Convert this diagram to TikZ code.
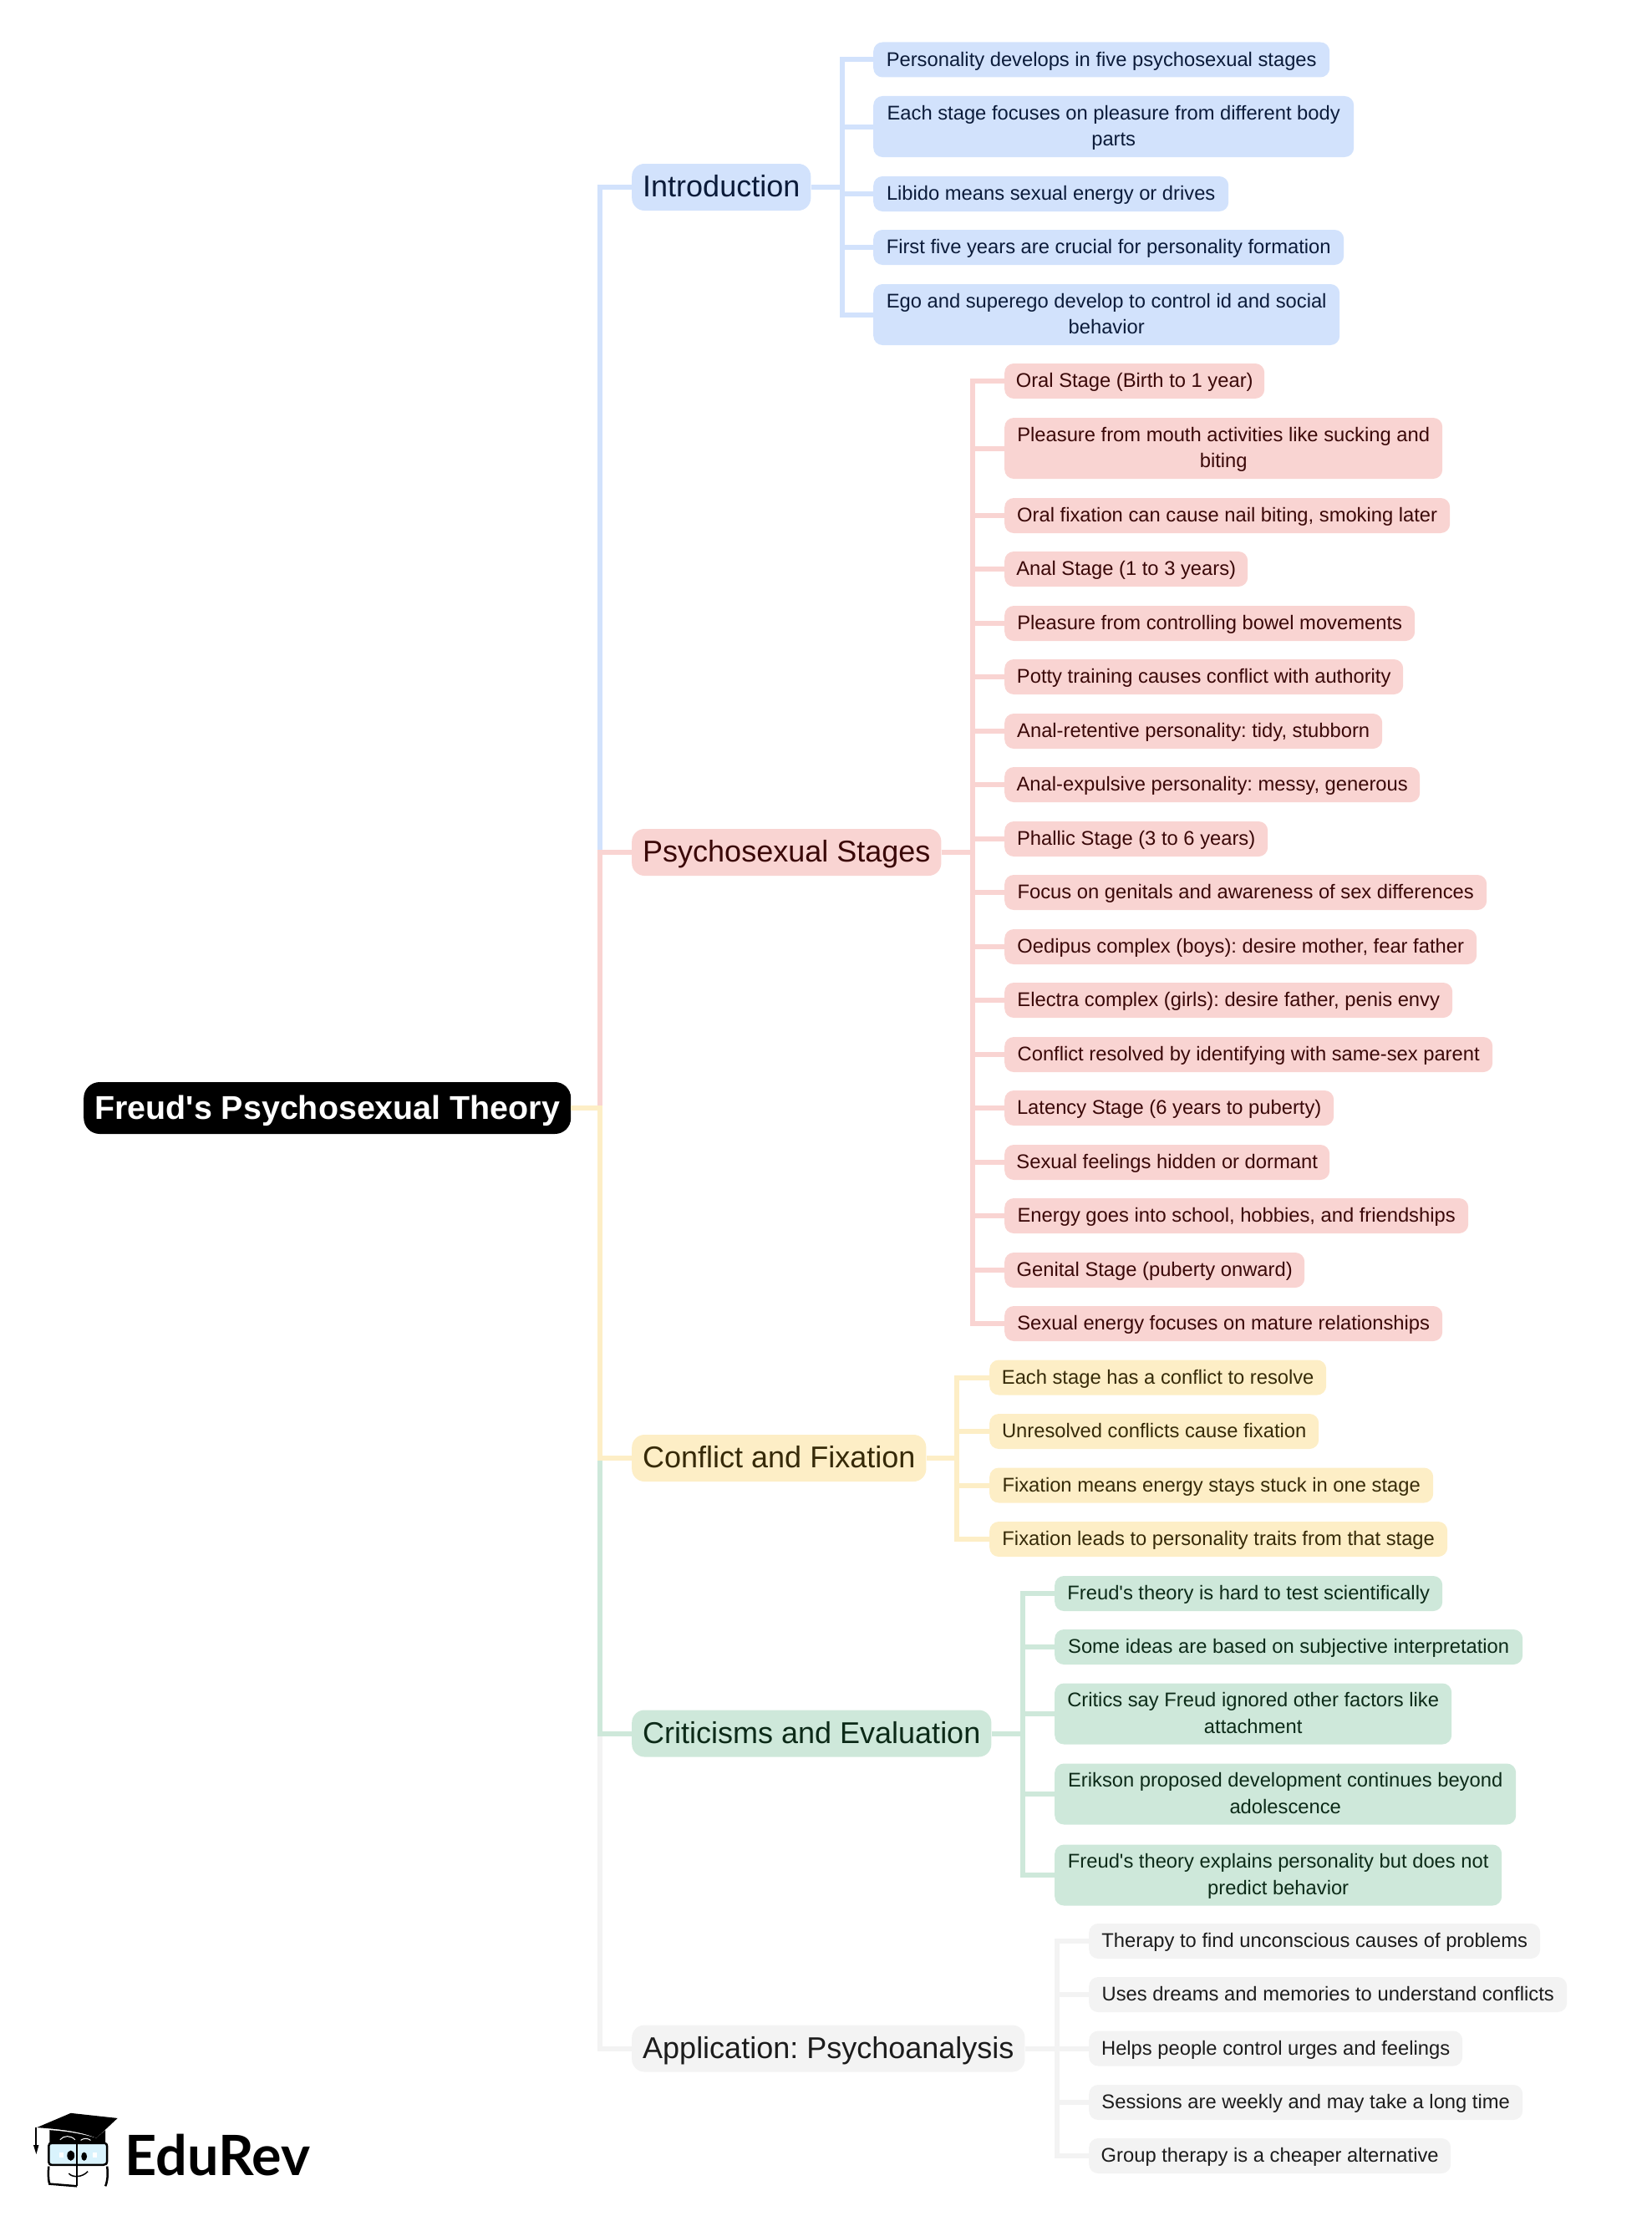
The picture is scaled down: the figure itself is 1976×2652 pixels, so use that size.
\documentclass[tikz,border=0pt]{standalone}
\usepackage{fontspec}
\setmainfont{Liberation Sans}
\newfontfamily\logofont{Lato}
\definecolor{bluefill}{HTML}{D2E2FC}
\definecolor{pinkfill}{HTML}{F9D4D2}
\definecolor{yellowfill}{HTML}{FDEEC6}
\definecolor{greenfill}{HTML}{CEE8DA}
\definecolor{grayfill}{HTML}{F3F3F3}
\definecolor{bluetext}{HTML}{0B1B3A}
\definecolor{pinktext}{HTML}{3A0808}
\definecolor{yellowtext}{HTML}{362A08}
\definecolor{greentext}{HTML}{0C2A18}
\definecolor{graytext}{HTML}{1C1C1C}
\newcommand{\nodestrut}{\frenchspacing\rule[-0.21em]{0pt}{1.08em}}
\newcommand{\firststrut}{\rule{0pt}{20.2pt}}
\newcommand{\laststrut}{\rule[-5.2pt]{0pt}{5.2pt}}
\tikzset{
  leaf/.style={anchor=west,rounded corners=11pt,inner xsep=2pt,inner ysep=0pt,minimum height=42pt,align=center,font=\fontsize{23.75}{31.5}\selectfont,execute at begin node=\nodestrut,execute at end node=\nodestrut},
  twoline/.style={minimum height=73pt},
  branch/.style={anchor=west,rounded corners=15pt,inner xsep=13pt,inner ysep=0pt,minimum height=56pt,font=\fontsize{36}{44}\selectfont,execute at begin node=\nodestrut},
  blueleaf/.style={leaf,fill=bluefill,text=bluetext},
  pinkleaf/.style={leaf,fill=pinkfill,text=pinktext},
  yellowleaf/.style={leaf,fill=yellowfill,text=yellowtext},
  greenleaf/.style={leaf,fill=greenfill,text=greentext},
  grayleaf/.style={leaf,fill=grayfill,text=graytext},
  bluelink/.style={draw=bluefill,line width=6pt},
  pinklink/.style={draw=pinkfill,line width=6pt},
  yellowlink/.style={draw=yellowfill,line width=6pt},
  greenlink/.style={draw=greenfill,line width=6pt},
  graylink/.style={draw=grayfill,line width=6pt}
}
\begin{document}
\begin{tikzpicture}[x=1pt,y=-1pt]
        \useasboundingbox (0,0) rectangle (1976,2652);
        % main nodes
        \node[anchor=west,fill=black,text=white,rounded corners=19pt,inner xsep=2pt,inner ysep=0pt,minimum width=583pt,minimum height=62pt,font=\fontsize{39.4}{44}\bfseries\selectfont,execute at begin node=\nodestrut] (root) at (100,1326) {Freud\textquotesingle s Psychosexual Theory};
        \node[branch,fill=bluefill,text=bluetext] (intro) at (756,224) {Introduction};
        \node[branch,fill=pinkfill,text=pinktext] (stages) at (756,1020) {Psychosexual Stages};
        \node[branch,fill=yellowfill,text=yellowtext] (conflict) at (756,1745) {Conflict and Fixation};
        \node[branch,fill=greenfill,text=greentext] (critics) at (756,2074.5) {Criticisms and Evaluation};
        \node[branch,fill=grayfill,text=graytext] (therapy) at (756,2451.5) {Application: Psychoanalysis};
        % introduction
        \node[blueleaf,minimum width=546pt] (intro1) at (1045,71.5) {Personality develops in five psychosexual stages};
        \node[blueleaf,twoline,minimum width=575pt] (intro2) at (1045,151.5) {\firststrut Each stage focuses on pleasure from different body\\parts\laststrut};
        \node[blueleaf,minimum width=425pt] (intro3) at (1045,232) {Libido means sexual energy or drives};
        \node[blueleaf,minimum width=563pt] (intro4) at (1045,296) {First five years are crucial for personality formation};
        \node[blueleaf,twoline,minimum width=558pt] (intro5) at (1045,376.5) {\firststrut Ego and superego develop to control id and social\\behavior\laststrut};
        % stages
        \node[pinkleaf,minimum width=311pt] (stage1) at (1202,456) {Oral Stage (Birth to 1 year)};
        \node[pinkleaf,twoline,minimum width=524pt] (stage2) at (1202,536.5) {\firststrut Pleasure from mouth activities like sucking and\\biting\laststrut};
        \node[pinkleaf,minimum width=533pt] (stage3) at (1202,617) {Oral fixation can cause nail biting, smoking later};
        \node[pinkleaf,minimum width=291pt] (stage4) at (1202,681) {Anal Stage (1 to 3 years)};
        \node[pinkleaf,minimum width=491pt] (stage5) at (1202,746) {Pleasure from controlling bowel movements};
        \node[pinkleaf,minimum width=477pt] (stage6) at (1202,810) {Potty training causes conflict with authority};
        \node[pinkleaf,minimum width=452pt] (stage7) at (1202,875) {Anal-retentive personality: tidy, stubborn};
        \node[pinkleaf,minimum width=497pt] (stage8) at (1202,939) {Anal-expulsive personality: messy, generous};
        \node[pinkleaf,minimum width=315pt] (stage9) at (1202,1004) {Phallic Stage (3 to 6 years)};
        \node[pinkleaf,minimum width=577pt] (stage10) at (1202,1068) {Focus on genitals and awareness of sex differences};
        \node[pinkleaf,minimum width=565pt] (stage11) at (1202,1133) {Oedipus complex (boys): desire mother, fear father};
        \node[pinkleaf,minimum width=536pt] (stage12) at (1202,1197) {Electra complex (girls): desire father, penis envy};
        \node[pinkleaf,minimum width=584pt] (stage13) at (1202,1262) {Conflict resolved by identifying with same-sex parent};
        \node[pinkleaf,minimum width=394pt] (stage14) at (1202,1326) {Latency Stage (6 years to puberty)};
        \node[pinkleaf,minimum width=389pt] (stage15) at (1202,1391) {Sexual feelings hidden or dormant};
        \node[pinkleaf,minimum width=555pt] (stage16) at (1202,1455) {Energy goes into school, hobbies, and friendships};
        \node[pinkleaf,minimum width=359pt] (stage17) at (1202,1520) {Genital Stage (puberty onward)};
        \node[pinkleaf,minimum width=524pt] (stage18) at (1202,1584) {Sexual energy focuses on mature relationships};
        % conflict
        \node[yellowleaf,minimum width=403pt] (conflict1) at (1184,1648.5) {Each stage has a conflict to resolve};
        \node[yellowleaf,minimum width=394pt] (conflict2) at (1184,1713) {Unresolved conflicts cause fixation};
        \node[yellowleaf,minimum width=531pt] (conflict3) at (1184,1777.5) {Fixation means energy stays stuck in one stage};
        \node[yellowleaf,minimum width=548pt] (conflict4) at (1184,1842) {Fixation leads to personality traits from that stage};
        % criticisms
        \node[greenleaf,minimum width=464pt] (critic1) at (1262,1907) {Freud\textquotesingle s theory is hard to test scientifically};
        \node[greenleaf,minimum width=560pt] (critic2) at (1262,1971) {Some ideas are based on subjective interpretation};
        \node[greenleaf,twoline,minimum width=475pt] (critic3) at (1262,2051) {\firststrut Critics say Freud ignored other factors like\\attachment\laststrut};
        \node[greenleaf,twoline,minimum width=552pt] (critic4) at (1262,2147) {\firststrut Erikson proposed development continues beyond\\adolescence\laststrut};
        \node[greenleaf,twoline,minimum width=535pt] (critic5) at (1262,2244) {\firststrut Freud\textquotesingle s theory explains personality but does not\\predict behavior\laststrut};
        % psychoanalysis
        \node[grayleaf,minimum width=540pt] (therapy1) at (1303,2323) {Therapy to find unconscious causes of problems};
        \node[grayleaf,minimum width=572pt] (therapy2) at (1303,2387) {Uses dreams and memories to understand conflicts};
        \node[grayleaf,minimum width=447pt] (therapy3) at (1303,2451.5) {Helps people control urges and feelings};
        \node[grayleaf,minimum width=519pt] (therapy4) at (1303,2516) {Sessions are weekly and may take a long time};
        \node[grayleaf,minimum width=433pt] (therapy5) at (1303,2580) {Group therapy is a cheaper alternative};
        % bus lines
        \coordinate (mainbus) at (718,1326);
        \coordinate (introbus) at (1008,224);
        \coordinate (stagesbus) at (1164,1020);
        \coordinate (conflictbus) at (1145,1745);
        \coordinate (criticsbus) at (1224,2074.5);
        \coordinate (therapybus) at (1265,2451.5);
        \draw[graylink] (mainbus) |- (therapy.west);
        \draw[greenlink] (mainbus) |- (critics.west);
        \draw[bluelink] (mainbus) |- (intro.west);
        \draw[pinklink] (mainbus) |- (stages.west);
        \draw[yellowlink] (root.east) -- (mainbus) |- (conflict.west);
        \draw[bluelink] (intro.east) -- (introbus);
        \draw[bluelink] (introbus) |- (intro1.west);
        \draw[bluelink] (introbus) |- (intro2.west);
        \draw[bluelink] (introbus) |- (intro3.west);
        \draw[bluelink] (introbus) |- (intro4.west);
        \draw[bluelink] (introbus) |- (intro5.west);
        \draw[pinklink] (stages.east) -- (stagesbus);
        \draw[pinklink] (stagesbus) |- (stage1.west);
        \draw[pinklink] (stagesbus) |- (stage2.west);
        \draw[pinklink] (stagesbus) |- (stage3.west);
        \draw[pinklink] (stagesbus) |- (stage4.west);
        \draw[pinklink] (stagesbus) |- (stage5.west);
        \draw[pinklink] (stagesbus) |- (stage6.west);
        \draw[pinklink] (stagesbus) |- (stage7.west);
        \draw[pinklink] (stagesbus) |- (stage8.west);
        \draw[pinklink] (stagesbus) |- (stage9.west);
        \draw[pinklink] (stagesbus) |- (stage10.west);
        \draw[pinklink] (stagesbus) |- (stage11.west);
        \draw[pinklink] (stagesbus) |- (stage12.west);
        \draw[pinklink] (stagesbus) |- (stage13.west);
        \draw[pinklink] (stagesbus) |- (stage14.west);
        \draw[pinklink] (stagesbus) |- (stage15.west);
        \draw[pinklink] (stagesbus) |- (stage16.west);
        \draw[pinklink] (stagesbus) |- (stage17.west);
        \draw[pinklink] (stagesbus) |- (stage18.west);
        \draw[yellowlink] (conflict.east) -- (conflictbus);
        \draw[yellowlink] (conflictbus) |- (conflict1.west);
        \draw[yellowlink] (conflictbus) |- (conflict2.west);
        \draw[yellowlink] (conflictbus) |- (conflict3.west);
        \draw[yellowlink] (conflictbus) |- (conflict4.west);
        \draw[greenlink] (critics.east) -- (criticsbus);
        \draw[greenlink] (criticsbus) |- (critic1.west);
        \draw[greenlink] (criticsbus) |- (critic2.west);
        \draw[greenlink] (criticsbus) |- (critic3.west);
        \draw[greenlink] (criticsbus) |- (critic4.west);
        \draw[greenlink] (criticsbus) |- (critic5.west);
        \draw[graylink] (therapy.east) -- (therapybus);
        \draw[graylink] (therapybus) |- (therapy1.west);
        \draw[graylink] (therapybus) |- (therapy2.west);
        \draw[graylink] (therapybus) |- (therapy3.west);
        \draw[graylink] (therapybus) |- (therapy4.west);
        \draw[graylink] (therapybus) |- (therapy5.west);
        % logo
        \begin{scope}[shift={(0,2440)},x=0.339pt,y=-0.339pt]
            \fill (130,313)--(250,262)--(415,280)--(340,350)..controls (280,325) and (200,318) ..(130,313);
            \fill (175,322)..controls (230,325) and (290,335) ..(340,350)--(372,322)--(372,370)--(175,370)--cycle;
            \draw[white,line width=1pt] (212,356)..controls (225,340) and (250,340) ..(265,356);
            \draw[white,line width=1pt] (285,358)..controls (295,350) and (310,350) ..(320,358);
            \draw[line width=1.5pt] (127,313)--(127,378);
            \fill (118,375)--(137,375)--(128,407)--cycle;
            \draw[line width=2.5pt,fill=cyan!15] (172,378)..controls (172,370) and (176,368) ..(185,368)--(365,368)..controls (375,368) and (378,372) ..(378,382)--(378,430)..controls (378,440) and (374,445) ..(365,445)--(185,445)..controls (175,445) and (172,440) ..(172,430)--cycle;
            \draw[line width=2.5pt] (172,450)..controls (170,470) and (170,500) ..(175,512)--(272,520);
            \draw[line width=2.5pt] (378,450)..controls (381,470) and (381,500) ..(372,520);
            \draw[line width=2.5pt] (272,368)--(272,520);
            \draw[line width=1.5pt] (243,475)..controls (255,490) and (290,490) ..(310,468);
            \fill (250,412) ellipse [x radius=13,y radius=18];
            \fill (297,415) ellipse [x radius=10,y radius=15];
            \fill[white] (210,402) rectangle (225,418);
            \fill[white] (326,402) rectangle (342,418);
        \end{scope}
        \node[anchor=base west,inner sep=0pt,font=\logofont\fontsize{66.5}{66}\bfseries\selectfont] (logo) at (149,2603) {EduRev};
    \end{tikzpicture}
\end{document}
